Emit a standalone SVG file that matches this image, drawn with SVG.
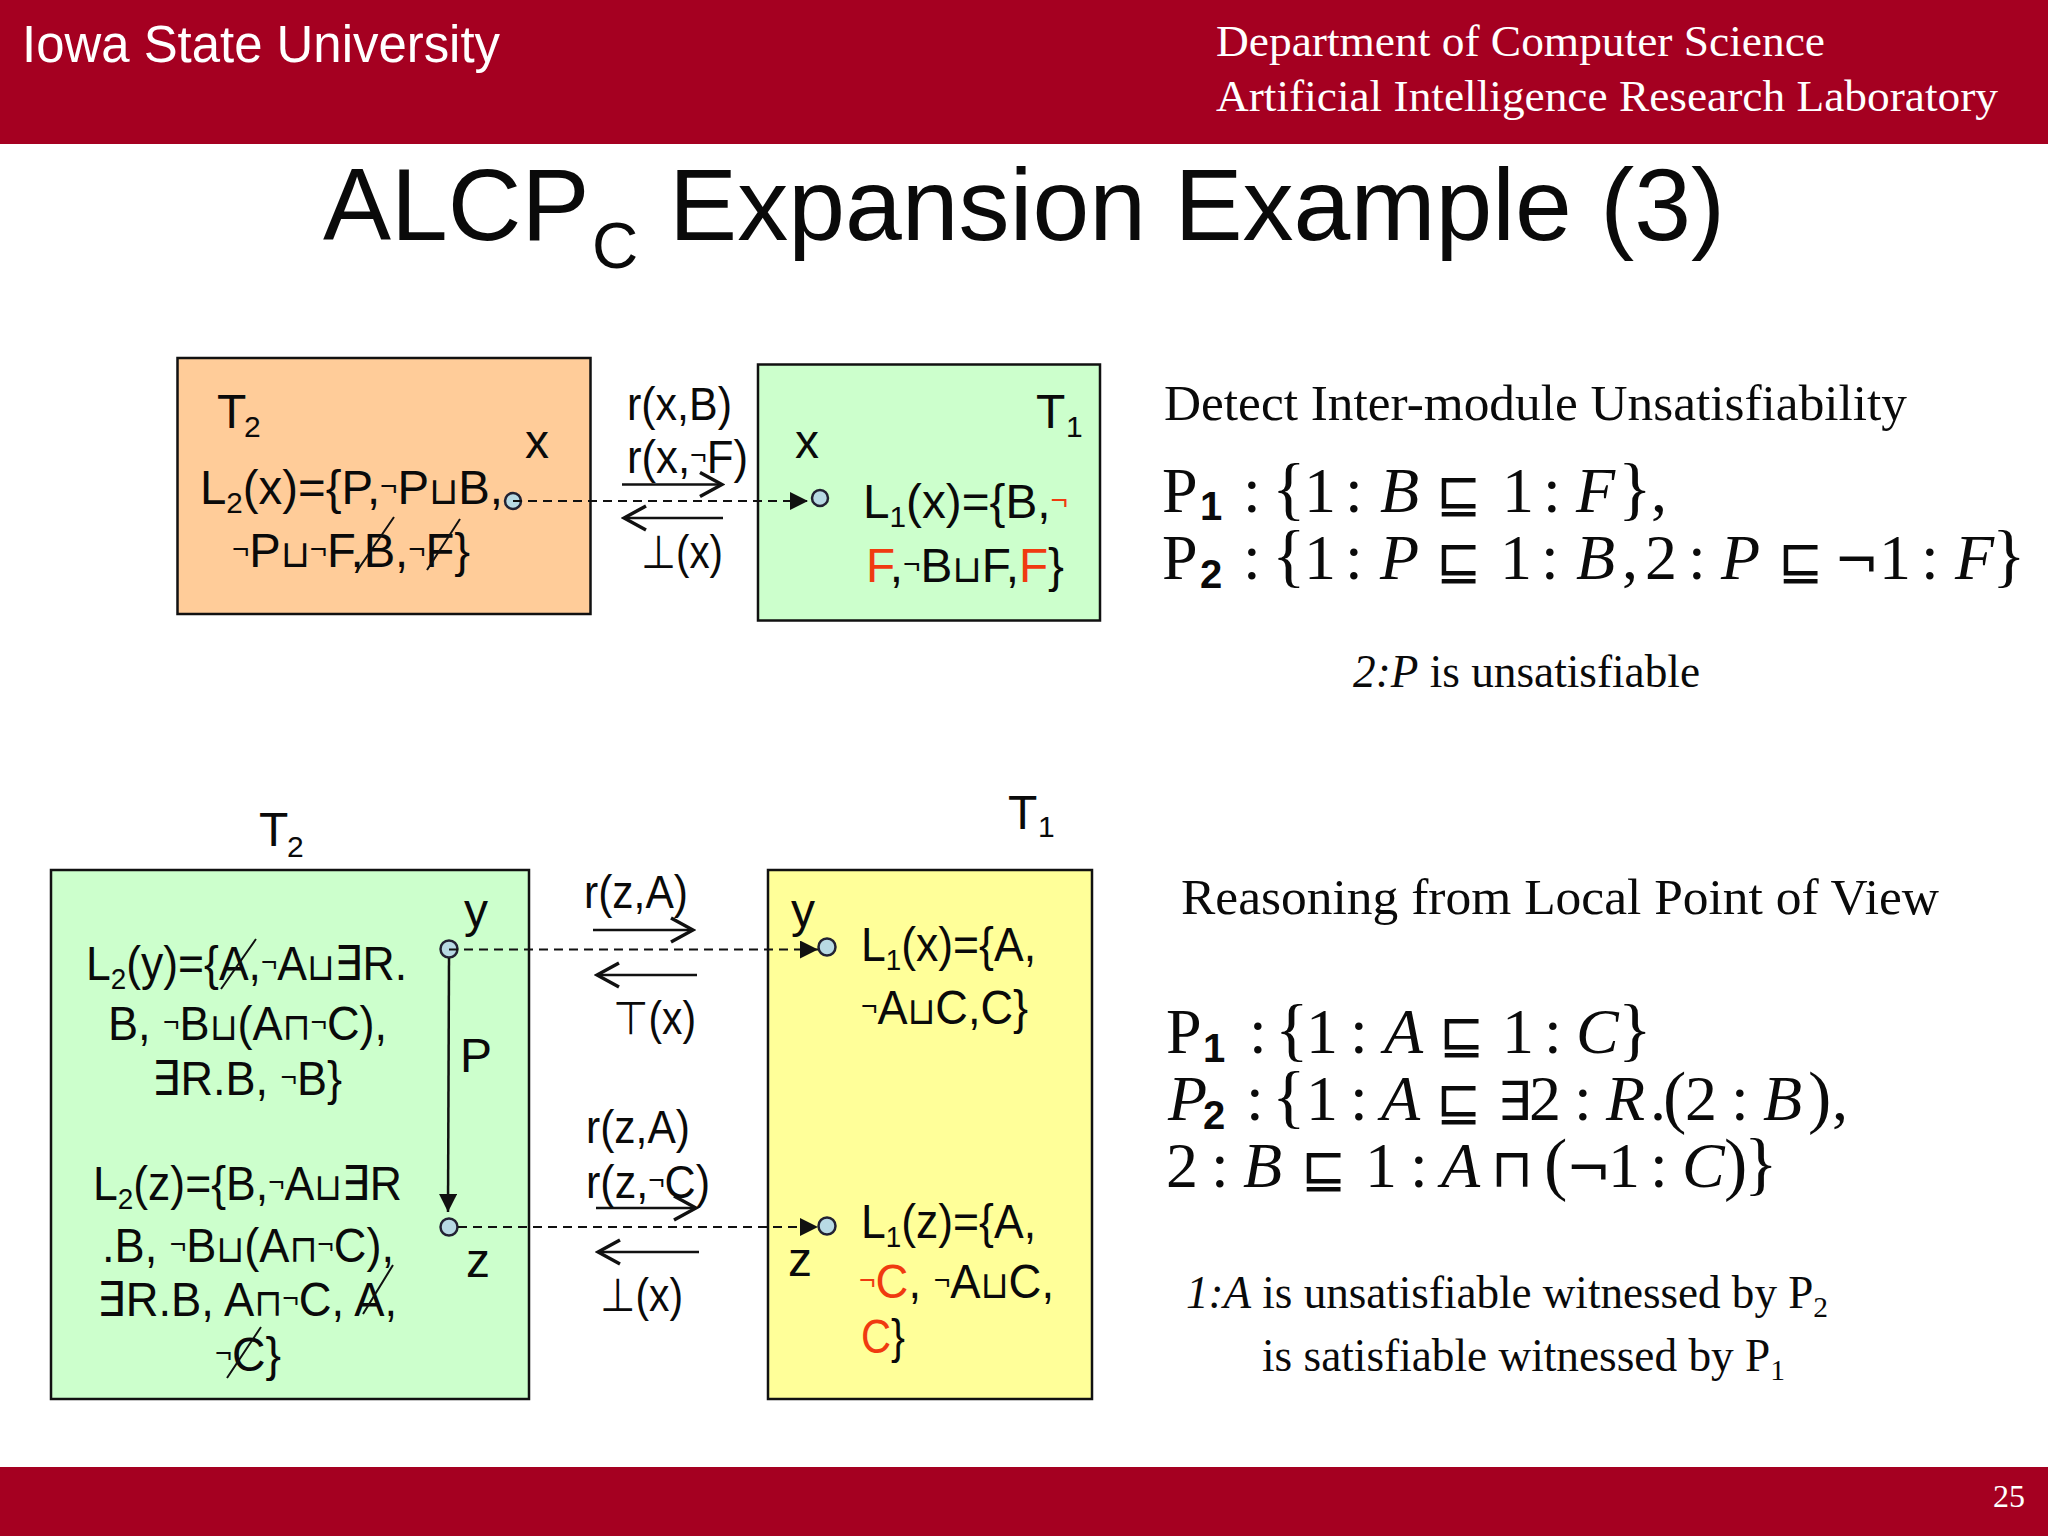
<svg xmlns="http://www.w3.org/2000/svg" width="2048" height="1536" viewBox="0 0 2048 1536">
<style>
text{fill:#0a0a0a}
.s{font-family:"Liberation Sans","DejaVu Sans",sans-serif;font-size:48px}
.l{font-size:46px}
.r{font-family:"Liberation Serif","DejaVu Serif",serif}
.h{font-size:50px}
.c{font-size:46px}
.m{font-family:"Liberation Serif","DejaVu Serif",serif;font-size:64px}
.br{font-size:70px}
.b{font-family:"Liberation Sans",sans-serif;font-weight:bold;font-size:40px}
.i{font-style:italic}
.u{font-family:"DejaVu Sans",sans-serif;font-size:54px}
.sub{font-size:30px}
.n{font-size:30px}
.o{font-size:38px}
.red{fill:#F03A10}
.box{stroke:#111;stroke-width:2.5}
.dot{fill:#B8DAE4;stroke:#223;stroke-width:2.5}
.dash{fill:none;stroke:#111;stroke-width:2;stroke-dasharray:9 6}
.arr{fill:none;stroke:#111;stroke-width:2.5}
.cross{stroke:#111;stroke-width:2;fill:none}
</style>
<defs>
<marker id="solid" markerUnits="userSpaceOnUse" markerWidth="20" markerHeight="18" refX="18" refY="9" orient="auto"><path d="M0 0L18 9L0 18Z" fill="#111"/></marker>
<marker id="open" markerUnits="userSpaceOnUse" markerWidth="26" markerHeight="30" refX="23" refY="14" orient="auto"><path d="M1 2L23 14L1 26" fill="none" stroke="#111" stroke-width="3.500"/></marker>
</defs>
<rect width="2048" height="1536" fill="#fff"/>
<g id="header">
<rect width="2048" height="144" fill="#A50021"/>
<text x="22" y="62" font-family="Liberation Sans" font-size="51" style="fill:#fff" textLength="478" lengthAdjust="spacingAndGlyphs">Iowa State University</text>
<text class="r" x="1216" y="56" font-size="45" style="fill:#fff" textLength="609" lengthAdjust="spacingAndGlyphs">Department of Computer Science</text>
<text class="r" x="1216" y="111" font-size="45" style="fill:#fff" textLength="782" lengthAdjust="spacingAndGlyphs">Artificial Intelligence Research Laboratory</text>
</g>
<g id="footer">
<rect y="1467" width="2048" height="69" fill="#A50021"/>
<text class="r" x="1993" y="1507" font-size="32" style="fill:#fff">25</text>
</g>
<text id="title" font-family="Liberation Sans" font-size="102" x="323" y="240">ALCP<tspan x="592" y="268" font-size="64">C</tspan><tspan x="669" y="240" textLength="1056" lengthAdjust="spacingAndGlyphs">Expansion Example (3)</tspan></text>

<g id="top-t2">
<rect class="box" x="177.500" y="358" width="413" height="256" fill="#FFCC99"/>
<text class="s" x="217" y="428">T<tspan class="sub" x="244" y="437">2</tspan></text>
<text class="s" x="525" y="458">x</text>
<text class="s" x="200" y="504" textLength="303" lengthAdjust="spacingAndGlyphs">L<tspan class="sub" dy="9">2</tspan><tspan dy="-9">(x)={P,</tspan><tspan class="n" dy="-8">¬</tspan><tspan dy="8">P</tspan><tspan class="o">⊔</tspan>B,</text>
<text class="s" x="232" y="567" textLength="238" lengthAdjust="spacingAndGlyphs"><tspan class="n" dy="-8">¬</tspan><tspan dy="8">P</tspan><tspan class="o">⊔</tspan><tspan class="n" dy="-8">¬</tspan><tspan dy="8">F,B,</tspan><tspan class="n" dy="-8">¬</tspan><tspan dy="8">F}</tspan></text>
<path class="cross" d="M394 517L357 571M460 519L427 570"/>
<circle class="dot" cx="513" cy="501" r="8"/>
</g>
<g id="top-t1">
<rect class="box" x="758" y="364.500" width="342" height="256" fill="#CCFFCC"/>
<text class="s" x="1036" y="428">T<tspan class="sub" x="1066" y="437">1</tspan></text>
<text class="s" x="795" y="458">x</text>
<text class="s" x="863" y="518" textLength="205" lengthAdjust="spacingAndGlyphs">L<tspan class="sub" dy="9">1</tspan><tspan dy="-9">(x)={B,</tspan><tspan class="red n" dy="-8">¬</tspan></text>
<text class="s" x="866" y="582" textLength="198" lengthAdjust="spacingAndGlyphs"><tspan class="red">F</tspan>,<tspan class="n" dy="-8">¬</tspan><tspan dy="8">B</tspan><tspan class="o">⊔</tspan>F,<tspan class="red">F</tspan>}</text>
<circle class="dot" cx="820" cy="498" r="8"/>
</g>
<g id="bottom-t2">
<rect class="box" x="51" y="870" width="478" height="529" fill="#CCFFCC"/>
<text class="s" x="259" y="846">T<tspan class="sub" x="287" y="857">2</tspan></text>
<text class="s" x="86" y="980" textLength="321" lengthAdjust="spacingAndGlyphs">L<tspan class="sub" dy="9">2</tspan><tspan dy="-9">(y)={A,</tspan><tspan class="n" dy="-8">¬</tspan><tspan dy="8">A</tspan><tspan class="o">⊔</tspan>∃R.</text>
<text class="s" x="108" y="1040" textLength="279" lengthAdjust="spacingAndGlyphs">B, <tspan class="n" dy="-8">¬</tspan><tspan dy="8">B</tspan><tspan class="o">⊔</tspan>(A<tspan class="o">⊓</tspan><tspan class="n" dy="-8">¬</tspan><tspan dy="8">C),</tspan></text>
<text class="s" x="152" y="1095" textLength="190" lengthAdjust="spacingAndGlyphs">∃R.B, <tspan class="n" dy="-8">¬</tspan><tspan dy="8">B}</tspan></text>
<text class="s" x="93" y="1200" textLength="309" lengthAdjust="spacingAndGlyphs">L<tspan class="sub" dy="9">2</tspan><tspan dy="-9">(z)={B,</tspan><tspan class="n" dy="-8">¬</tspan><tspan dy="8">A</tspan><tspan class="o">⊔</tspan>∃R</text>
<text class="s" x="102" y="1262" textLength="292" lengthAdjust="spacingAndGlyphs">.B, <tspan class="n" dy="-8">¬</tspan><tspan dy="8">B</tspan><tspan class="o">⊔</tspan>(A<tspan class="o">⊓</tspan><tspan class="n" dy="-8">¬</tspan><tspan dy="8">C),</tspan></text>
<text class="s" x="97" y="1316" textLength="300" lengthAdjust="spacingAndGlyphs">∃R.B, A<tspan class="o">⊓</tspan><tspan class="n" dy="-8">¬</tspan><tspan dy="8">C, A,</tspan></text>
<text class="s" x="215" y="1371" textLength="66" lengthAdjust="spacingAndGlyphs"><tspan class="n" dy="-8">¬</tspan><tspan dy="8">C}</tspan></text>
<path class="cross" d="M256 939L221 989M393 1265L363 1314M261 1327L227 1378"/>
<text class="s" x="464" y="927">y</text>
<text class="s" x="466" y="1277">z</text>
<text class="s" x="460" y="1072">P</text>
<circle class="dot" cx="449" cy="949" r="8.500"/>
<circle class="dot" cx="449" cy="1227" r="8.500"/>
</g>
<g id="bottom-t1">
<rect class="box" x="768" y="870" width="324" height="529" fill="#FFFF99"/>
<text class="s" x="1008" y="829">T<tspan class="sub" x="1038" y="837">1</tspan></text>
<text class="s" x="791" y="927">y</text>
<text class="s" x="788" y="1276">z</text>
<text class="s" x="861" y="961" textLength="175" lengthAdjust="spacingAndGlyphs">L<tspan class="sub" dy="9">1</tspan><tspan dy="-9">(x)={A,</tspan></text>
<text class="s" x="861" y="1024" textLength="167" lengthAdjust="spacingAndGlyphs"><tspan class="n" dy="-8">¬</tspan><tspan dy="8">A</tspan><tspan class="o">⊔</tspan>C,C}</text>
<text class="s" x="861" y="1238" textLength="175" lengthAdjust="spacingAndGlyphs">L<tspan class="sub" dy="9">1</tspan><tspan dy="-9">(z)={A,</tspan></text>
<text class="s" x="859" y="1298" textLength="195" lengthAdjust="spacingAndGlyphs"><tspan class="red n" dy="-8">¬</tspan><tspan class="red" dy="8">C</tspan>, <tspan class="n" dy="-8">¬</tspan><tspan dy="8">A</tspan><tspan class="o">⊔</tspan>C,</text>
<text class="s" x="861" y="1353" textLength="44" lengthAdjust="spacingAndGlyphs"><tspan class="red">C</tspan>}</text>
<circle class="dot" cx="827" cy="947" r="8.500"/>
<circle class="dot" cx="827" cy="1226" r="8.500"/>
</g>
<g id="connectors">
<path class="dash" d="M513 501L808 501" marker-end="url(#solid)"/>
<path class="dash" d="M449 949.500L818 949.500" marker-end="url(#solid)"/>
<path class="dash" d="M458 1227L818 1227" marker-end="url(#solid)"/>
<path class="arr" d="M449 958L448 1212" marker-end="url(#solid)"/>
<path class="arr" d="M622 484.500L722 484.500" marker-end="url(#open)"/>
<path class="arr" d="M723 518L624 518" marker-end="url(#open)"/>
<path class="arr" d="M593 930L693 930" marker-end="url(#open)"/>
<path class="arr" d="M697 975L597 975" marker-end="url(#open)"/>
<path class="arr" d="M596 1208L696 1208" marker-end="url(#open)"/>
<path class="arr" d="M699 1252L598 1252" marker-end="url(#open)"/>
</g>
<g id="connector-labels">
<text class="s l" x="627" y="420" textLength="105" lengthAdjust="spacingAndGlyphs">r(x,B)</text>
<text class="s l" x="627" y="473" textLength="121" lengthAdjust="spacingAndGlyphs">r(x,<tspan class="n" dy="-8">¬</tspan><tspan dy="8">F)</tspan></text>
<text class="s l" x="641" y="568" textLength="82" lengthAdjust="spacingAndGlyphs">⊥(x)</text>
<text class="s l" x="584" y="908" textLength="104" lengthAdjust="spacingAndGlyphs">r(z,A)</text>
<text class="s l" x="613" y="1034" textLength="83" lengthAdjust="spacingAndGlyphs">⊤(x)</text>
<text class="s l" x="586" y="1143" textLength="104" lengthAdjust="spacingAndGlyphs">r(z,A)</text>
<text class="s l" x="586" y="1198" textLength="124" lengthAdjust="spacingAndGlyphs">r(z,<tspan class="n" dy="-8">¬</tspan><tspan dy="8">C)</tspan></text>
<text class="s l" x="600" y="1311" textLength="83" lengthAdjust="spacingAndGlyphs">⊥(x)</text>
</g>
<g id="notes-top">
<text class="r h" x="1164" y="420" textLength="743" lengthAdjust="spacingAndGlyphs">Detect Inter-module Unsatisfiability</text>
<text class="m" y="512"><tspan x="1162">P</tspan><tspan class="b" x="1200" y="520">1</tspan><tspan x="1243" y="512">:</tspan><tspan class="br" x="1272">{</tspan><tspan x="1304">1</tspan><tspan x="1345">:</tspan><tspan class="i" x="1380">B</tspan><tspan x="1502">1</tspan><tspan x="1543">:</tspan><tspan class="i" x="1576">F</tspan><tspan class="br" x="1618">}</tspan><tspan x="1651">,</tspan></text>
<text class="u" x="1436" y="512">⊑</text>
<text class="m" y="579"><tspan x="1162">P</tspan><tspan class="b" x="1200" y="588">2</tspan><tspan x="1243" y="579">:</tspan><tspan class="br" x="1272">{</tspan><tspan x="1304">1</tspan><tspan x="1345">:</tspan><tspan class="i" x="1380">P</tspan><tspan x="1500">1</tspan><tspan x="1541">:</tspan><tspan class="i" x="1576">B</tspan><tspan x="1622">,</tspan><tspan x="1645">2</tspan><tspan x="1688">:</tspan><tspan class="i" x="1721">P</tspan><tspan x="1879">1</tspan><tspan x="1921">:</tspan><tspan class="i" x="1955">F</tspan><tspan class="br" x="1992">}</tspan></text>
<text class="u" x="1436" y="579">⊑<tspan x="1778">⊑</tspan><tspan x="1834">¬</tspan></text>
<text class="r c" x="1353" y="687" textLength="347" lengthAdjust="spacingAndGlyphs"><tspan class="i">2:P</tspan> is unsatisfiable</text>
</g>
<g id="notes-bottom">
<text class="r h" x="1181" y="914" textLength="758" lengthAdjust="spacingAndGlyphs">Reasoning from Local Point of View</text>
<text class="m" y="1053"><tspan x="1166">P</tspan><tspan class="b" x="1203" y="1062">1</tspan><tspan x="1249" y="1053">:</tspan><tspan class="br" x="1275">{</tspan><tspan x="1306">1</tspan><tspan x="1350">:</tspan><tspan class="i" x="1384">A</tspan><tspan x="1502">1</tspan><tspan x="1544">:</tspan><tspan class="i" x="1576">C</tspan><tspan class="br" x="1618">}</tspan></text>
<text class="u" x="1439" y="1053">⊑</text>
<text class="m" y="1120"><tspan class="i" x="1168">P</tspan><tspan class="b" x="1203" y="1129">2</tspan><tspan x="1246" y="1120">:</tspan><tspan class="br" x="1272">{</tspan><tspan x="1306">1</tspan><tspan x="1350">:</tspan><tspan class="i" x="1381">A</tspan><tspan x="1529">2</tspan><tspan x="1574">:</tspan><tspan class="i" x="1606">R</tspan><tspan x="1650">.</tspan><tspan class="br" x="1663">(</tspan><tspan x="1685">2</tspan><tspan x="1731">:</tspan><tspan class="i" x="1763">B</tspan><tspan class="br" x="1808">)</tspan><tspan x="1832">,</tspan></text>
<text class="u" x="1436" y="1120">⊑<tspan x="1497">∃</tspan></text>
<text class="m" y="1187"><tspan x="1166">2</tspan><tspan x="1211">:</tspan><tspan class="i" x="1243">B</tspan><tspan x="1365">1</tspan><tspan x="1410">:</tspan><tspan class="i" x="1441">A</tspan><tspan class="br" x="1544">(</tspan><tspan x="1608">1</tspan><tspan x="1650">:</tspan><tspan class="i" x="1682">C</tspan><tspan class="br" x="1724">)</tspan><tspan class="br" x="1744">}</tspan></text>
<text class="u" x="1301" y="1187">⊑<tspan x="1491">⊓</tspan><tspan x="1566">¬</tspan></text>
<text class="r c" x="1186" y="1308" textLength="642" lengthAdjust="spacingAndGlyphs"><tspan class="i">1:A</tspan> is unsatisfiable witnessed by P<tspan font-size="30" dy="9">2</tspan></text>
<text class="r c" x="1262" y="1371" textLength="523" lengthAdjust="spacingAndGlyphs">is satisfiable witnessed by P<tspan font-size="30" dy="9">1</tspan></text>
</g>
</svg>
